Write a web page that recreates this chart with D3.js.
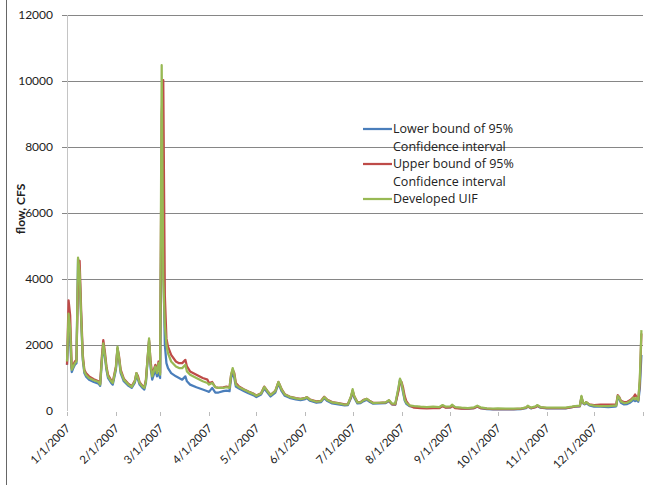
<!DOCTYPE html>
<html>
<head>
<meta charset="utf-8">
<script src="https://cdn.jsdelivr.net/npm/d3@7"></script>
<style>
  body { margin: 0; background: #fff; }
  svg { display: block; font-family: Lato, "Liberation Sans", sans-serif; }
</style>
</head>
<body>
<div id="chart"></div>
<script>
// Daily flow 2007 - values at the turning points

const dates = [
  // Jan
  "2007-01-01","2007-01-02","2007-01-03","2007-01-04","2007-01-05","2007-01-06","2007-01-07","2007-01-08",
  "2007-01-09","2007-01-10","2007-01-11","2007-01-12","2007-01-13","2007-01-15","2007-01-18","2007-01-21",
  "2007-01-22","2007-01-23","2007-01-24","2007-01-25","2007-01-26","2007-01-27","2007-01-29","2007-01-30",
  // Feb
  "2007-02-01","2007-02-02","2007-02-03","2007-02-04","2007-02-06","2007-02-09","2007-02-11","2007-02-13",
  "2007-02-14","2007-02-15","2007-02-16","2007-02-18","2007-02-19","2007-02-20","2007-02-22","2007-02-23",
  "2007-02-24","2007-02-26","2007-02-27","2007-02-28",
  // Mar
  "2007-03-01","2007-03-02","2007-03-03","2007-03-04","2007-03-05","2007-03-06","2007-03-08","2007-03-11",
  "2007-03-13","2007-03-15","2007-03-17","2007-03-18","2007-03-20","2007-03-24","2007-03-28","2007-03-31",
  // Apr
  "2007-04-01","2007-04-03","2007-04-05","2007-04-07","2007-04-10","2007-04-12","2007-04-14","2007-04-15",
  "2007-04-16","2007-04-17","2007-04-18","2007-04-20","2007-04-23","2007-04-26","2007-04-29",
  // May
  "2007-05-01","2007-05-04","2007-05-06","2007-05-08","2007-05-10","2007-05-13","2007-05-15","2007-05-17",
  "2007-05-19","2007-05-22","2007-05-26","2007-05-29",
  // Jun
  "2007-06-01","2007-06-02","2007-06-04","2007-06-08","2007-06-11","2007-06-13","2007-06-15","2007-06-18",
  "2007-06-22","2007-06-26","2007-06-28","2007-06-30",
  // Jul
  "2007-07-01","2007-07-02","2007-07-04","2007-07-06","2007-07-08","2007-07-10","2007-07-12","2007-07-14",
  "2007-07-18","2007-07-22","2007-07-24","2007-07-26","2007-07-28","2007-07-30","2007-07-31",
  // Aug
  "2007-08-01","2007-08-02","2007-08-03","2007-08-04","2007-08-06","2007-08-09","2007-08-13","2007-08-17",
  "2007-08-21","2007-08-25","2007-08-27","2007-08-29",
  // Sep
  "2007-09-01","2007-09-02","2007-09-04","2007-09-08","2007-09-12","2007-09-16","2007-09-18","2007-09-20",
  "2007-09-24","2007-09-28",
  // Oct
  "2007-10-01","2007-10-06","2007-10-11","2007-10-16","2007-10-19","2007-10-20","2007-10-22","2007-10-25",
  "2007-10-26","2007-10-28",
  // Nov
  "2007-11-01","2007-11-07","2007-11-13","2007-11-17","2007-11-19","2007-11-22","2007-11-23","2007-11-24",
  "2007-11-25","2007-11-26","2007-11-28",
  // Dec
  "2007-12-01","2007-12-05","2007-12-10","2007-12-14","2007-12-15","2007-12-16","2007-12-17","2007-12-18",
  "2007-12-20","2007-12-22","2007-12-24","2007-12-26","2007-12-27","2007-12-28","2007-12-29","2007-12-30",
  "2007-12-31"
];

const lowerBound = [
  1400,2550,2100,1180,1300,1400,1450,4600, 4150,2750,1550,1150,1050,950,880,830,
  760,1450,2000,1650,1250,1000,850,800,
  1250,1900,1550,1150,900,760,700,860, 1100,950,800,690,650,850,2100,1300,
  950,1250,1050,1150,
  1000,7000,4500,2000,1450,1300,1150,1050, 1000,950,1050,900,800,720,650,600,
  580,700,560,560,600,620,600,1000, 1150,1000,740,680,610,540,480,
  420,500,680,560,440,560,830,600, 460,400,350,330,
  360,390,310,250,270,390,300,230, 200,170,180,400,
  600,400,230,240,300,340,270,220, 230,240,300,200,190,650,950,
  800,550,320,220,150,130,110,100, 110,100,160,110,
  110,170,100,80,70,90,140,90, 60,50,
  60,50,50,60,90,140,80,120, 160,100,
  80,80,80,120,130,140,420,230, 200,240,170,
  130,130,120,130,140,420,360,250, 200,210,260,340,300,330,280,700,
  1700
];

const upperBound = [
  1400,3350,2900,1300,1400,1500,1550,4000, 4550,3000,1700,1250,1150,1050,960,900,
  820,1600,2150,1800,1350,1100,930,880,
  1350,1900,1650,1250,980,820,750,920, 1150,1050,870,750,720,950,2150,1500,
  1100,1400,1200,1500,
  1150,9000,10030,3500,2200,1950,1700,1500, 1450,1450,1550,1350,1200,1100,1000,950,
  850,880,720,700,720,740,720,1100, 1250,1150,850,740,660,590,530,
  470,540,740,610,490,610,880,660, 510,440,390,370,
  400,420,350,290,310,430,340,270, 240,200,210,430,
  620,450,270,270,340,370,300,250, 250,260,320,200,200,600,900,
  880,700,450,300,170,100,90,80, 90,90,150,100,
  110,160,90,70,70,90,140,90, 70,60,
  60,60,60,70,100,140,90,120, 160,110,
  90,90,90,120,140,150,420,250, 220,270,200,
  180,190,190,190,190,480,420,310, 270,280,330,420,500,420,330,900,
  2350
];

const developedUIF = [
  1500,2950,2500,1250,1350,1450,1500,4650, 4200,2800,1600,1200,1100,1000,930,880,
  800,1500,2050,1700,1300,1050,900,850,
  1300,1950,1600,1200,950,800,730,900, 1150,1000,850,730,700,900,2200,1400,
  1050,1350,1150,1450,
  1100,10480,4000,2600,2000,1750,1500,1350, 1300,1300,1400,1200,1100,1000,900,850,
  800,850,720,700,700,720,700,1100, 1300,1100,800,720,650,580,520,
  460,530,730,600,480,600,880,650, 500,430,380,360,
  390,420,340,280,300,420,330,260, 230,190,200,450,
  660,450,260,260,330,370,300,240, 250,260,330,220,220,700,980,
  850,600,350,250,170,150,130,120, 130,120,180,130,
  140,190,120,100,90,110,160,110, 80,70,
  80,70,70,80,110,160,100,140, 180,120,
  100,100,100,130,150,160,455,250, 220,270,190,
  160,150,150,160,160,455,400,290, 240,250,300,400,350,400,320,1000,
  2450
];

const yTicks = [0, 2000, 4000, 6000, 8000, 10000, 12000];
const monthLabels = ["1/1/2007","2/1/2007","3/1/2007","4/1/2007","5/1/2007","6/1/2007",
  "7/1/2007","8/1/2007","9/1/2007","10/1/2007","11/1/2007","12/1/2007"];
const seriesNames = [["Lower bound of 95%", "Confidence interval"],
  ["Upper bound of 95%", "Confidence interval"], ["Developed UIF"]];
const seriesColors = ["#4a7ebb", "#be4b48", "#98b954"];

const width = 658, height = 485,
  margin = ({ top: 15, right: 15, bottom: 74, left: 67 });

const parse = d3.timeParse("%Y-%m-%d");
const days = dates.map(parse);

const svg = d3.select("#chart")
  .append("svg")
  .attr("width", width)
  .attr("height", height)
  .attr("viewBox", [0, 0, width, height]);

// chart frame edge on the left
svg.append("line")
  .attr("x1", 6.5).attr("x2", 6.5)
  .attr("y1", 0).attr("y2", height)
  .attr("stroke", "#666");

const x = d3.scaleTime()
  .domain([new Date(2007, 0, 1), new Date(2008, 0, 1)])
  .range([margin.left, width - margin.right]);

const y = d3.scaleLinear()
  .domain([0, 12000])
  .range([height - margin.bottom, margin.top]);

// horizontal gridlines (none at zero)
svg.append("g")
  .selectAll("line")
  .data(yTicks.filter(d => d > 0))
  .join("line")
  .attr("x1", margin.left - 5)
  .attr("x2", width - margin.right)
  .attr("y1", d => Math.round(y(d)) + 0.5)
  .attr("y2", d => Math.round(y(d)) + 0.5)
  .attr("stroke", "#868686");

// y axis line
svg.append("line")
  .attr("x1", margin.left + 0.5).attr("x2", margin.left + 0.5)
  .attr("y1", y(12000)).attr("y2", y(0))
  .attr("stroke", "#c4c4c4");

// y tick labels
svg.append("g")
  .selectAll("text")
  .data(yTicks)
  .join("text")
  .attr("x", 53)
  .attr("y", d => y(d))
  .attr("dy", "0.35em")
  .attr("text-anchor", "end")
  .attr("font-size", 12)
  .attr("fill", "#222")
  .text(d => d);

// x tick marks, one per month plus the year end
const monthTicks = d3.timeMonth.range(new Date(2007, 0, 1), new Date(2008, 0, 2));
svg.append("g")
  .selectAll("line")
  .data(monthTicks)
  .join("line")
  .attr("x1", d => Math.round(x(d)) + 0.5)
  .attr("x2", d => Math.round(x(d)) + 0.5)
  .attr("y1", y(0) + 1)
  .attr("y2", y(0) + 5)
  .attr("stroke", "#bbb");

svg.append("g")
  .selectAll("text")
  .data(monthTicks.slice(0, monthLabels.length))
  .join("text")
  .attr("transform", d => `translate(${x(d) + 4},${y(0) + 18}) rotate(-45)`)
  .attr("text-anchor", "end")
  .attr("font-size", 11.5)
  .attr("fill", "#222")
  .text((d, i) => monthLabels[i]);

// y axis title
svg.append("text")
  .attr("transform", `translate(21,${y(6000) - 4}) rotate(-90)`)
  .attr("text-anchor", "middle")
  .attr("dy", "0.35em")
  .attr("font-size", 12)
  .attr("font-weight", "bold")
  .attr("fill", "#222")
  .text("flow, CFS");

// series lines: blue, red, then green on top
const line = d3.line()
  .x((d, i) => x(days[i]))
  .y(d => y(d));

[lowerBound, upperBound, developedUIF].forEach((values, i) => {
  svg.append("path")
    .attr("d", line(values))
    .attr("fill", "none")
    .attr("stroke", seriesColors[i])
    .attr("stroke-width", 2.25)
    .attr("stroke-linejoin", "round");
});

// legend
const legendRows = [129, 164, 199];
const legend = svg.append("g");
seriesNames.forEach((lines, i) => {
  legend.append("line")
    .attr("x1", 363).attr("x2", 392)
    .attr("y1", legendRows[i]).attr("y2", legendRows[i])
    .attr("stroke", seriesColors[i])
    .attr("stroke-width", 2.25);
  lines.forEach((t, j) => {
    legend.append("text")
      .attr("x", 393)
      .attr("y", legendRows[i] + j * 17.5)
      .attr("dy", "0.35em")
      .attr("font-family", "'Open Sans', sans-serif")
      .attr("font-size", 12.5)
      .attr("fill", "#222")
      .text(t);
  });
});
</script>
</body>
</html>
